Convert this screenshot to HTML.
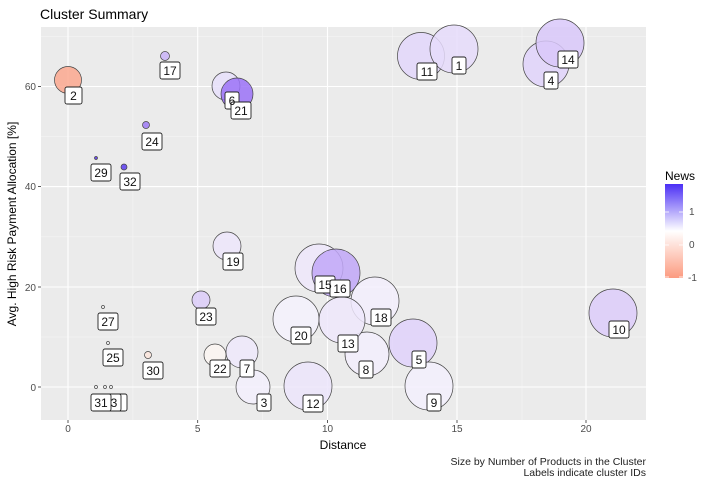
<!DOCTYPE html>
<html><head><style>body{margin:0;background:#fff}svg{display:block;font-family:"Liberation Sans",Arial,sans-serif}</style></head><body>
<svg width="710" height="482" viewBox="0 0 710 482">
<defs><linearGradient id="g" x1="0" y1="0" x2="0" y2="1"><stop offset="0" stop-color="#4b2ff5"/><stop offset="0.5" stop-color="#ffffff"/><stop offset="1" stop-color="#fc9b80"/></linearGradient></defs>
<rect x="41" y="27" width="605" height="393" fill="#ebebeb"/>
<g stroke="#f5f5f5" stroke-width="0.6">
<line x1="132.9" y1="27" x2="132.9" y2="420"/><line x1="262.6" y1="27" x2="262.6" y2="420"/><line x1="392.3" y1="27" x2="392.3" y2="420"/><line x1="522" y1="27" x2="522" y2="420"/>
<line x1="41" y1="36.6" x2="646" y2="36.6"/><line x1="41" y1="136.6" x2="646" y2="136.6"/><line x1="41" y1="236.8" x2="646" y2="236.8"/><line x1="41" y1="337" x2="646" y2="337"/>
</g>
<g stroke="#fff" stroke-width="1.1">
<line x1="68" y1="27" x2="68" y2="420"/><line x1="197.7" y1="27" x2="197.7" y2="420"/><line x1="327.5" y1="27" x2="327.5" y2="420"/><line x1="457" y1="27" x2="457" y2="420"/><line x1="586" y1="27" x2="586" y2="420"/>
<line x1="41" y1="86.5" x2="646" y2="86.5"/><line x1="41" y1="186.6" x2="646" y2="186.6"/><line x1="41" y1="287" x2="646" y2="287"/><line x1="41" y1="387" x2="646" y2="387"/>
</g>
<g stroke="#444" stroke-width="0.7" fill-opacity="0.85">
<circle cx="68" cy="80" r="13.5" fill="#fca88f"/>
<circle cx="165" cy="56" r="4.5" fill="#c9b3f7"/>
<circle cx="146" cy="125" r="3.5" fill="#9d7af5"/>
<circle cx="96" cy="158" r="1.5" fill="#5533e8"/>
<circle cx="124" cy="167" r="3" fill="#5a3cf0"/>
<circle cx="226" cy="86" r="14" fill="#e8e0fb"/>
<circle cx="237" cy="94" r="16" fill="#9b72f7"/>
<circle cx="227" cy="246" r="14" fill="#ede6fc"/>
<circle cx="201" cy="300" r="9" fill="#dccdf9"/>
<circle cx="319" cy="268" r="24" fill="#eee8fc"/>
<circle cx="336" cy="273" r="24" fill="#c1a7f8"/>
<circle cx="375" cy="301" r="24" fill="#f3effd"/>
<circle cx="296" cy="319" r="23" fill="#f5f2fd"/>
<circle cx="367" cy="354" r="22" fill="#f3effd"/>
<circle cx="342" cy="320" r="23" fill="#efe8fc"/>
<circle cx="413" cy="343" r="24" fill="#e0d2fb"/>
<circle cx="429" cy="386" r="24" fill="#f3f0fd"/>
<circle cx="613" cy="313" r="24" fill="#ddccfa"/>
<circle cx="308" cy="386" r="24" fill="#ece5fc"/>
<circle cx="253" cy="387" r="17" fill="#f3f0fd"/>
<circle cx="242" cy="352" r="16" fill="#efe9fc"/>
<circle cx="215" cy="355" r="11" fill="#fbf6f2"/>
<circle cx="148" cy="355" r="3.5" fill="#fbe5dc"/>
<circle cx="103" cy="307" r="1.5" fill="#f5f5f5"/>
<circle cx="108" cy="343" r="1.5" fill="#f5f5f5"/>
<circle cx="96" cy="387" r="1.5" fill="#f5f5f5"/>
<circle cx="105" cy="387" r="1.5" fill="#f5f5f5"/>
<circle cx="111" cy="387" r="1.5" fill="#f5f5f5"/>
<circle cx="421" cy="56" r="23.5" fill="#e3d7fb"/>
<circle cx="454" cy="49" r="24" fill="#e6dcfc"/>
<circle cx="546" cy="64" r="23" fill="#e0d3fb"/>
<circle cx="560" cy="43" r="24" fill="#d9c8fa"/>
</g>
<g font-size="12" fill="#111" text-anchor="middle">
<g stroke="#222" stroke-width="0.9" fill="#fff">
<rect x="65" y="87" width="17" height="17" rx="2"/><rect x="160" y="62" width="20" height="17" rx="2"/><rect x="142" y="133" width="20" height="17" rx="2"/><rect x="91" y="164" width="20" height="17" rx="2"/><rect x="120" y="173" width="20" height="17" rx="2"/>
<rect x="225" y="92" width="14" height="17" rx="2"/><rect x="231" y="102" width="20" height="17" rx="2"/><rect x="223" y="253" width="20" height="17" rx="2"/><rect x="196" y="308" width="20" height="17" rx="2"/>
<rect x="315" y="276" width="20" height="17" rx="2"/><rect x="330" y="280" width="20" height="17" rx="2"/><rect x="291" y="327" width="20" height="17" rx="2"/><rect x="338" y="335" width="20" height="17" rx="2"/>
<rect x="359" y="361" width="14" height="17" rx="2"/><rect x="371" y="309" width="20" height="17" rx="2"/><rect x="412" y="351" width="14" height="17" rx="2"/><rect x="427" y="394" width="14" height="17" rx="2"/>
<rect x="609" y="321" width="20" height="17" rx="2"/><rect x="303" y="395" width="20" height="17" rx="2"/><rect x="257" y="394" width="14" height="17" rx="2"/><rect x="240" y="360" width="14" height="17" rx="2"/>
<rect x="210" y="360" width="20" height="17" rx="2"/><rect x="143" y="362" width="20" height="17" rx="2"/><rect x="98" y="313" width="20" height="17" rx="2"/><rect x="103" y="349" width="20" height="17" rx="2"/>
<rect x="112" y="394" width="15" height="17" rx="2"/><rect x="106" y="394" width="15" height="17" rx="2"/><rect x="91" y="394" width="20" height="17" rx="2"/>
<rect x="417" y="63" width="20" height="17" rx="2"/><rect x="452" y="57" width="14" height="17" rx="2"/><rect x="544" y="72" width="14" height="17" rx="2"/><rect x="558" y="51" width="20" height="17" rx="2"/>
</g>
<text x="73.5" y="100">2</text><text x="170" y="75">17</text><text x="152" y="146">24</text><text x="101" y="177">29</text><text x="130" y="186">32</text>
<text x="232" y="105">6</text><text x="241" y="115">21</text><text x="233" y="266">19</text><text x="206" y="321">23</text>
<text x="325" y="289">15</text><text x="340" y="293">16</text><text x="301" y="340">20</text><text x="348" y="348">13</text>
<text x="366" y="374">8</text><text x="381" y="322">18</text><text x="419" y="364">5</text><text x="434" y="407">9</text>
<text x="619" y="334">10</text><text x="313" y="408">12</text><text x="264" y="407">3</text><text x="247" y="373">7</text>
<text x="220" y="373">22</text><text x="153" y="375">30</text><text x="108" y="326">27</text><text x="113" y="362">25</text>
<text x="101" y="407">31</text><text x="114" y="407">3</text>
<text x="427" y="76">11</text><text x="459" y="70">1</text><text x="551" y="85">4</text><text x="568" y="64">14</text>
</g>
<g font-size="10" fill="#4d4d4d">
<text x="68" y="432" text-anchor="middle">0</text><text x="197.7" y="432" text-anchor="middle">5</text><text x="327.5" y="432" text-anchor="middle">10</text><text x="457" y="432" text-anchor="middle">15</text><text x="586" y="432" text-anchor="middle">20</text>
<text x="36" y="90" text-anchor="end">60</text><text x="36" y="190" text-anchor="end">40</text><text x="36" y="291" text-anchor="end">20</text><text x="36" y="391" text-anchor="end">0</text>
</g>
<g stroke="#333" stroke-width="0.8">
<line x1="68" y1="420" x2="68" y2="423"/><line x1="197.7" y1="420" x2="197.7" y2="423"/><line x1="327.5" y1="420" x2="327.5" y2="423"/><line x1="457" y1="420" x2="457" y2="423"/><line x1="586" y1="420" x2="586" y2="423"/>
<line x1="38" y1="86.5" x2="41" y2="86.5"/><line x1="38" y1="186.6" x2="41" y2="186.6"/><line x1="38" y1="287" x2="41" y2="287"/><line x1="38" y1="387" x2="41" y2="387"/>
</g>
<text x="40" y="19" font-size="14" fill="#000">Cluster Summary</text>
<text x="343" y="449" font-size="12" fill="#000" text-anchor="middle">Distance</text>
<text transform="translate(16,224) rotate(-90)" font-size="12" fill="#000" text-anchor="middle">Avg. High Risk Payment Allocation [%]</text>
<text x="646" y="465" font-size="10.5" fill="#222" text-anchor="end">Size by Number of Products in the Cluster</text>
<text x="646" y="476" font-size="10.5" fill="#222" text-anchor="end">Labels indicate cluster IDs</text>
<text x="665" y="180" font-size="12" fill="#000">News</text>
<rect x="665" y="184" width="18" height="94" fill="url(#g)"/>
<g stroke="#fff" stroke-width="0.8"><line x1="665" y1="212" x2="669" y2="212"/><line x1="679" y1="212" x2="683" y2="212"/><line x1="665" y1="245" x2="669" y2="245"/><line x1="679" y1="245" x2="683" y2="245"/><line x1="665" y1="277" x2="669" y2="277"/><line x1="679" y1="277" x2="683" y2="277"/></g>
<g font-size="10" fill="#4d4d4d"><text x="689" y="215">1</text><text x="689" y="248">0</text><text x="688" y="281">-1</text></g>
</svg>
</body></html>
